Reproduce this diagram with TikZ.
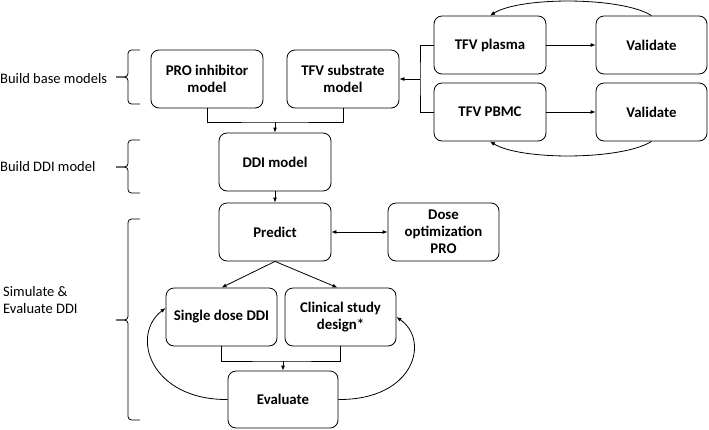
\documentclass[tikz,border=0pt]{standalone}
\usepackage{fontspec}
\setmainfont{Carlito}
\usetikzlibrary{arrows.meta}
\begin{document}
\begin{tikzpicture}[x=1pt,y=-1pt,
  box/.style={draw, rounded corners=8pt, minimum width=112pt, minimum height=58pt,
    align=center, font=\bfseries\fontsize{14.8}{17}\selectfont, inner sep=0pt, line width=0.8pt},
  lab/.style={anchor=west, align=left, inner sep=0pt, font=\fontsize{14.5}{17}\selectfont},
  conn/.style={line width=0.8pt},
  arr/.style={conn, -{Latex[length=5pt,width=4pt]}},
  darr/.style={conn, {Latex[length=5pt,width=4pt]}-{Latex[length=5pt,width=4pt]}},
  brc/.style={line width=0.8pt, rounded corners=3.5pt}]
\useasboundingbox (0,0) rectangle (709,429);
\newcommand\bracepath[3]{%
  \draw[brc] (140,#1) -- (128,#1) -- (128,#2) -- (116,#2);
  \draw[brc] (116,#2) -- (128,#2) -- (128,#3) -- (140,#3);}

% nodes
\node[box] (pro)    at (207,79)    {PRO inhibitor\\model};
\node[box] (sub)    at (343,79)    {TFV substrate\\model};
\node[box] (pla)    at (490,45)    {TFV plasma};
\node[box, minimum width=111pt] (va1) at (651.5,45) {Validate};
\node[box] (pbmc)   at (490,112)   {TFV PBMC};
\node[box, minimum width=111pt] (va2) at (651.5,112) {Validate};
\node[box] (ddi)    at (275,162)   {DDI model};
\node[box] (pred)   at (275,232)   {Predict};
\node[box, minimum width=111pt] (dose) at (443.5,232) {Dose\\optimization\\PRO};
\node[box, minimum width=111pt] (single) at (221.5,317) {Single dose DDI};
\node[box, minimum width=111pt] (clin) at (340.5,317) {Clinical study\\design*};
\node[box, minimum width=110pt, minimum height=57pt] (eval) at (283,399.5) {Evaluate};

% labels
\node[lab] (l1) at (0,79) {Build base models};
\node[lab] (l2) at (0,167) {Build DDI model};
\node[lab] (l3) at (3,300) {Simulate \&\\Evaluate DDI};

% braces
\bracepath{50}{77}{104}
\bracepath{140}{167}{193}
\bracepath{219}{320}{420}

% TFV branch
\coordinate (j1) at (420,79);
\draw[conn] (pla.west) -| (j1) |- (pbmc.west);
\draw[arr] (j1) -- (sub.east);
\draw[arr] (pla.east) -- (va1.west);
\draw[arr] (pbmc.east) -- (va2.west);
\draw[arr] (va1.north) .. controls +(-30,-19) and +(30,-19) .. (pla.north);
\draw[arr] (va2.south) .. controls +(-30,19) and +(30,19) .. (pbmc.south);

% base models -> DDI
\coordinate (m1) at (275,122);
\draw[conn] (pro.south) |- (m1) -| (sub.south);
\draw[arr] (m1) -- (ddi.north);
\draw[arr] (ddi.south) -- (pred.north);
\draw[darr] (pred.east) -- (dose.west);
\draw[arr] (pred.south) -- (single.north);
\draw[arr] (pred.south) -- ([xshift=-3pt]clin.north);

% merge -> evaluate
\coordinate (m2) at (283,361);
\draw[conn] (single.south) |- (m2) -| (clin.south);
\draw[arr] (m2) -- (eval.north);

% feedback loops
\draw[arr] (eval.west) .. controls (150,400) and (130,335) .. ([yshift=9pt]single.west);
\draw[arr] (eval.east) .. controls (415,400) and (430,340) .. (clin.east);
\end{tikzpicture}
\end{document}
